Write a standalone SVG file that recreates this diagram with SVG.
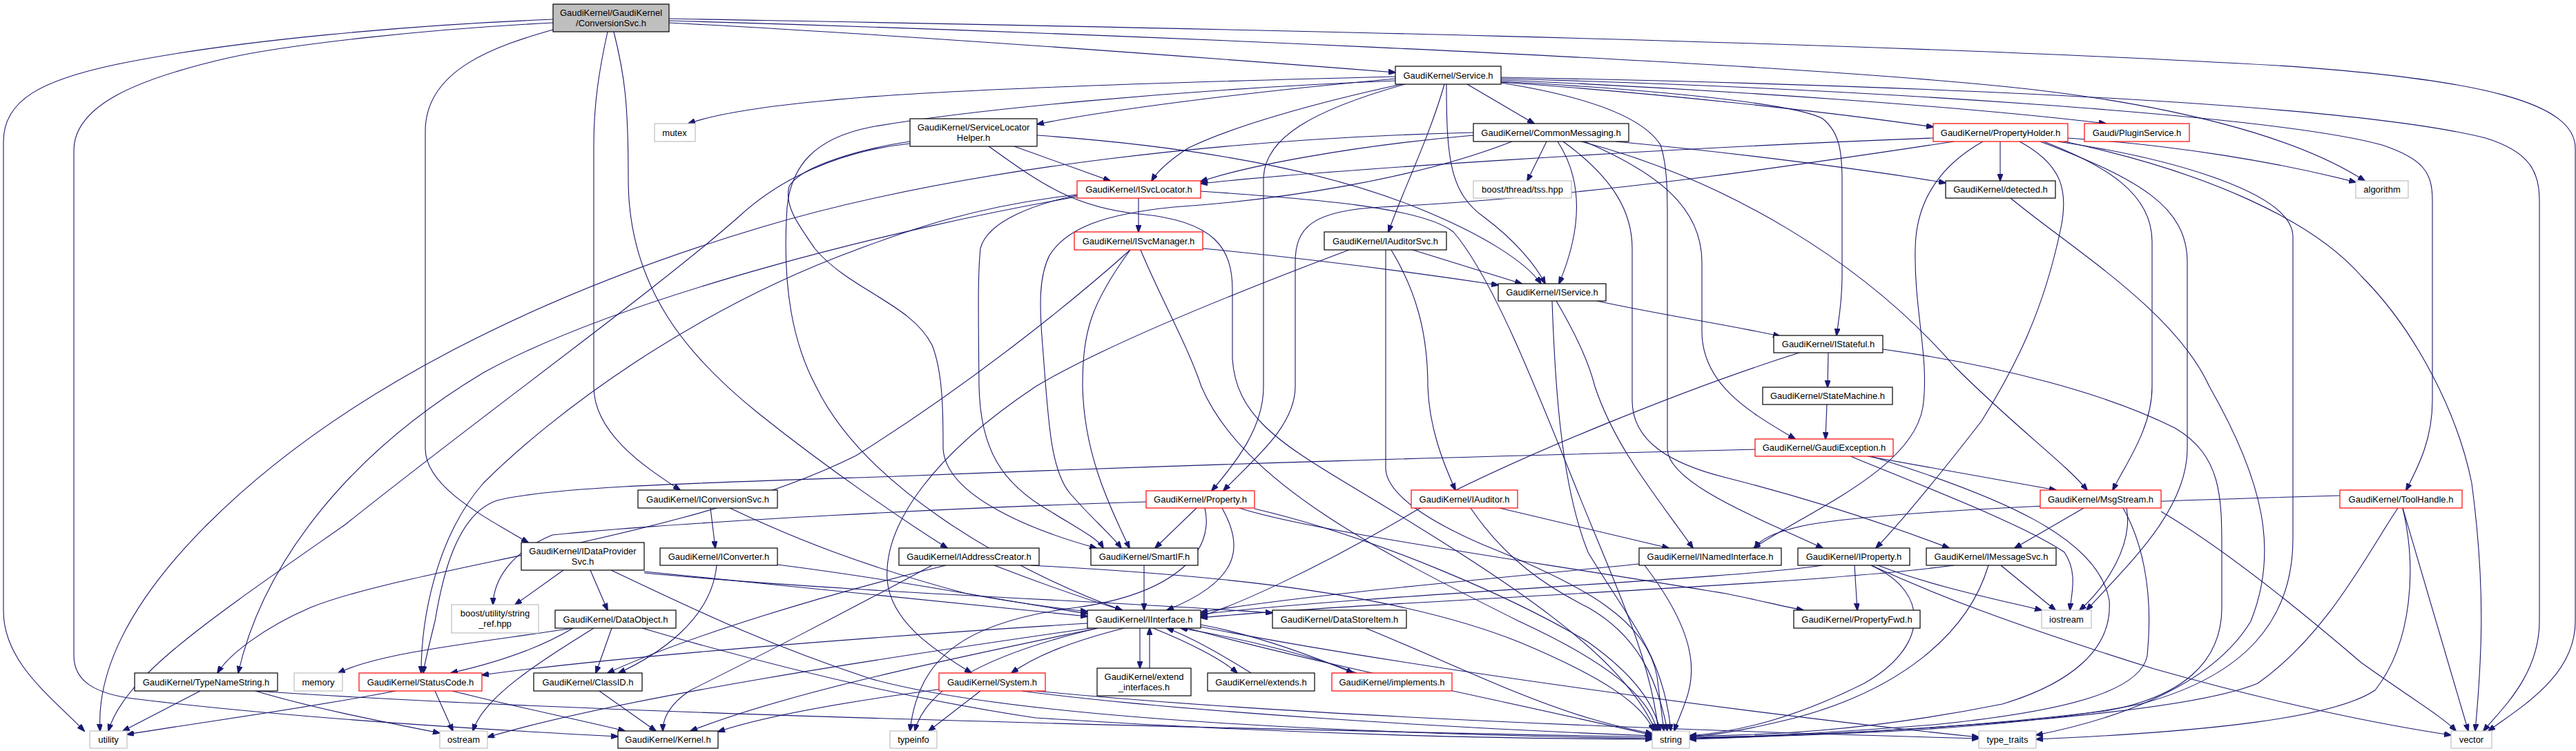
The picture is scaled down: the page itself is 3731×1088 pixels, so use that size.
<svg xmlns="http://www.w3.org/2000/svg" width="3731" height="1088" viewBox="0 0 3731 1088">
<style>
.e path{fill:none;stroke:#191970;stroke-width:1.1;marker-end:url(#ah)}
.n rect{fill:#fff;stroke:#000;stroke-width:1.2}
.n.r rect{stroke:#ff0000}
.n.g rect{stroke:#bfbfbf}
.n.root rect{fill:#bfbfbf}
text{font-family:"Liberation Sans",Arial,Helvetica,sans-serif;font-size:13px;fill:#000;text-anchor:middle}
</style>
<defs>
<marker id="ah" markerWidth="11" markerHeight="8" refX="10" refY="4" orient="auto" markerUnits="userSpaceOnUse">
<polygon points="0,0 11,4 0,8" fill="#191970" stroke="#191970"/>
</marker>
</defs>
<rect width="3731" height="1088" fill="#fff"/>
<g class="e" id="edges">
<path d="M801,28 C600,36 340,58 170,93 C60,116 5,145 5,205 L5,885 C5,960 75,1010 122,1059"/>
<path d="M801,33 C620,42 420,64 330,84 C200,114 107,152 107,218 L107,950 C107,988 140,1005 192,1012 C420,1040 720,1058 895,1067"/>
<path d="M801,43 C720,66 616,100 616,190 L616,650 C616,705 700,748 765,786"/>
<path d="M880,46 C868,100 860,150 860,210 L860,560 C860,630 940,680 985,710"/>
<path d="M889,46 C905,110 910,150 910,260 C910,420 1000,520 1100,600 C1200,680 1310,755 1372,794"/>
<path d="M969,33 C1300,50 1700,80 2021,105"/>
<path d="M969,27 C1500,37 2600,55 3300,95 C3600,115 3730,150 3730,215 L3730,900 C3730,980 3650,1025 3604,1059"/>
<path d="M969,30 C1500,45 2500,85 2900,125 C3150,150 3330,200 3425,262"/>
<path d="M2021,111 C1700,119 1400,129 1250,141 C1150,149 1050,160 997,179"/>
<path d="M2021,114 C1800,134 1600,160 1502,180"/>
<path d="M2030,122 C1900,150 1780,185 1720,215 C1690,235 1675,250 1668,262"/>
<path d="M2125,122 L2222,179"/>
<path d="M2092,122 C2070,200 2030,280 2011,336"/>
<path d="M2095,122 C2095,230 2100,280 2150,315 C2190,345 2222,380 2238,411"/>
<path d="M2174,119 C2400,135 2650,162 2800,184"/>
<path d="M2174,116 C2500,130 2850,155 3050,179"/>
<path d="M2174,118 C2400,130 2600,150 2640,172 C2665,192 2668,222 2668,262 L2668,400 C2668,440 2662,470 2660,486"/>
<path d="M2174,114 C2700,128 3300,168 3450,210 C3510,230 3523,250 3523,290 L3523,580 C3523,640 3500,680 3485,710"/>
<path d="M2174,112 C2800,124 3400,150 3600,200 C3665,220 3678,250 3678,290 L3678,900 C3678,980 3620,1030 3597,1059"/>
<path d="M2035,122 C1900,160 1830,200 1830,260 L1830,560 C1830,620 1790,670 1755,711"/>
<path d="M2174,120 C2300,140 2380,170 2405,210 C2415,240 2415,280 2415,320 L2415,650 C2415,700 2550,752 2640,794"/>
<path d="M2021,117 C1700,130 1400,160 1262,184 C1180,200 1146,240 1140,300 C1132,420 1150,500 1182,560 C1250,700 1450,820 1625,884"/>
<path d="M2240,205 L2212,262"/>
<path d="M2256,205 C2292,260 2292,330 2258,411"/>
<path d="M2264,205 C2340,260 2364,310 2364,360 L2364,580 C2364,640 2420,672 2500,692 C2650,730 2760,770 2823,794"/>
<path d="M2295,205 C2400,250 2465,300 2465,380 L2465,480 C2465,560 2540,600 2600,636"/>
<path d="M2290,205 C2500,260 2700,380 2830,530 C2920,620 2990,670 3023,710"/>
<path d="M2340,205 C2500,220 2700,245 2818,265"/>
<path d="M2134,196 C1950,212 1800,242 1739,263"/>
<path d="M2190,205 C2050,260 1850,290 1700,300 C1600,310 1545,330 1520,370 C1505,400 1505,440 1510,500 C1518,600 1520,680 1550,715 C1580,750 1610,775 1624,794"/>
<path d="M2134,192 C1800,200 1400,240 1100,330 C800,420 500,560 300,760 C180,880 140,980 145,1059"/>
<path d="M2897,205 L2897,262"/>
<path d="M2995,200 C3150,210 3300,235 3412,264"/>
<path d="M2960,205 C3050,240 3117,280 3117,350 L3117,560 C3117,620 3080,670 3060,710"/>
<path d="M2800,200 C2400,215 1900,248 1739,266"/>
<path d="M2830,205 C2600,240 2300,285 2000,300 C1900,305 1876,330 1876,380 L1876,560 C1876,620 1810,670 1772,711"/>
<path d="M2925,205 C2990,240 2995,280 2985,330 C2960,450 2920,530 2870,610 C2800,700 2750,760 2717,794"/>
<path d="M2872,205 C2810,240 2775,290 2774,360 C2772,450 2795,520 2785,590 C2770,680 2620,740 2540,794"/>
<path d="M2955,205 C3100,260 3168,300 3168,380 L3168,650 C3168,740 3080,820 3022,884"/>
<path d="M2990,205 C3200,250 3350,320 3420,400 C3500,480 3560,600 3580,700 C3600,850 3595,950 3585,1059"/>
<path d="M2980,205 C3150,230 3321,280 3321,343 L3321,780 C3321,900 3250,980 3100,1020 C2900,1060 2600,1066 2447,1070"/>
<path d="M1649,287 L1649,336"/>
<path d="M1560,283 C1500,295 1430,320 1420,360 C1416,400 1417,450 1418,560 C1420,650 1450,700 1520,740 C1560,765 1590,780 1598,794"/>
<path d="M1739,277 C1900,288 2060,300 2105,336 C2160,400 2220,550 2280,700 C2340,850 2390,950 2402,1059"/>
<path d="M1560,282 C1400,300 1300,340 1240,362 C1000,450 800,600 700,700 C630,780 610,900 610,975"/>
<path d="M1560,285 C1300,330 900,430 700,540 C500,660 380,820 345,975"/>
<path d="M1469,212 L1608,262"/>
<path d="M1502,196 C1700,210 1900,240 2050,300 C2150,340 2210,380 2232,411"/>
<path d="M1432,212 C1500,260 1550,300 1650,310 C1760,320 1785,360 1785,420 L1785,520 C1790,600 1850,640 1950,700 C2200,850 2350,950 2398,1059"/>
<path d="M1318,205 C1250,215 1160,240 1143,270 C1135,300 1160,330 1180,360 C1230,420 1320,440 1350,500 C1366,540 1366,600 1366,650 C1370,720 1500,770 1588,794"/>
<path d="M1318,208 C1250,215 1150,240 1070,314 C950,420 700,600 500,760 C300,900 180,980 157,1059"/>
<path d="M1742,360 C1900,375 2050,395 2170,413"/>
<path d="M1637,362 C1580,440 1568,480 1568,560 C1570,650 1600,720 1636,794"/>
<path d="M1637,362 C1550,440 1400,560 1240,660 C1000,780 600,820 450,880 C380,910 330,950 315,975"/>
<path d="M1652,362 C1680,430 1720,500 1740,560 C1800,700 2000,800 2200,900 C2330,960 2390,1010 2400,1059"/>
<path d="M2046,362 L2204,411"/>
<path d="M2015,362 C2050,420 2068,480 2068,560 C2070,620 2090,670 2108,710"/>
<path d="M2007,362 L2007,680 C2010,720 2080,760 2150,790 C2300,850 2385,900 2400,980 L2410,1059"/>
<path d="M1954,362 C1800,420 1600,500 1500,560 C1350,660 1280,760 1285,840 C1290,900 1350,940 1407,975"/>
<path d="M2313,436 C2400,455 2500,470 2578,487"/>
<path d="M2254,436 C2280,480 2300,520 2310,560 C2340,650 2400,720 2452,794"/>
<path d="M2248,436 C2252,550 2260,700 2300,800 C2360,900 2410,950 2420,1059"/>
<path d="M2648,511 L2647,561"/>
<path d="M2606,511 C2450,560 2200,660 2050,740 C1900,830 1780,880 1739,893"/>
<path d="M2727,506 C2900,530 3050,570 3150,620 C3218,660 3218,720 3218,800 L3218,880 C3218,960 3160,1010 3050,1030 C2800,1060 2600,1066 2447,1068"/>
<path d="M2646,586 L2644,636"/>
<path d="M2705,661 L2978,710"/>
<path d="M2680,661 C2800,710 2930,760 2990,800 C3010,830 3000,860 2998,884"/>
<path d="M2710,661 C2900,720 3040,780 3055,870 C3060,940 3000,990 2900,1020 C2700,1060 2550,1066 2447,1066"/>
<path d="M2542,651 C2200,660 1800,670 1300,690 C1000,700 800,705 720,725 C660,745 640,840 630,900 C620,940 615,960 613,975"/>
<path d="M3018,736 L2918,794"/>
<path d="M3080,736 C3090,790 3050,850 3012,884"/>
<path d="M3075,736 C3100,780 3120,850 3110,950 C3100,1000 3000,1030 2800,1050 C2650,1062 2520,1068 2447,1069"/>
<path d="M3130,741 C3230,800 3350,900 3420,960 C3490,1010 3540,1040 3557,1059"/>
<path d="M3389,718 C3100,726 2750,738 2620,760 C2570,770 2548,782 2542,794"/>
<path d="M3473,736 C3430,800 3370,920 3270,990 C3150,1040 2700,1062 2447,1071"/>
<path d="M3480,736 C3500,820 3495,930 3440,1000 C3380,1040 3200,1060 2949,1071"/>
<path d="M3480,736 L3575,1059"/>
<path d="M2172,736 L2417,794"/>
<path d="M2130,736 C2180,810 2240,850 2300,880 C2370,920 2400,980 2415,1059"/>
<path d="M1733,736 L1673,794"/>
<path d="M1770,736 C1800,790 1800,840 1690,884"/>
<path d="M1745,736 C1760,800 1700,860 1560,880 C1400,900 1330,950 1318,1059"/>
<path d="M1795,736 C1900,770 2200,810 2500,860 C2550,870 2580,878 2612,884"/>
<path d="M1660,727 C1400,735 1000,755 800,775 C740,800 715,840 714,876"/>
<path d="M1817,737 C2000,780 2200,870 2300,930 C2370,980 2395,1020 2405,1059"/>
<path d="M2686,819 L2690,884"/>
<path d="M2640,819 C2500,840 2000,860 1739,890"/>
<path d="M2720,819 C2800,850 2900,870 2957,884"/>
<path d="M2710,819 C2800,860 2790,940 2700,990 C2600,1040 2520,1060 2447,1066"/>
<path d="M2710,819 C2800,860 2900,900 3120,969 C3300,1020 3450,1050 3550,1065"/>
<path d="M2830,819 C2600,850 2000,870 1739,895"/>
<path d="M2898,819 L2977,884"/>
<path d="M2880,819 C2850,920 2750,1000 2600,1040 C2520,1060 2470,1066 2447,1067"/>
<path d="M2374,817 C2200,835 1900,860 1739,887"/>
<path d="M2382,819 C2490,960 2440,1010 2425,1059"/>
<path d="M1029,736 L1036,794"/>
<path d="M1057,736 C1150,780 1250,820 1400,860 C1480,875 1540,882 1575,886"/>
<path d="M1038,819 C1030,900 950,950 896,975"/>
<path d="M1126,818 C1300,840 1450,870 1575,889"/>
<path d="M816,826 L746,876"/>
<path d="M855,826 L880,884"/>
<path d="M933,828 C1150,850 1400,875 1575,893"/>
<path d="M933,830 C1250,860 1600,870 1843,888"/>
<path d="M885,826 C1000,880 1100,930 1260,983 C1500,1050 2100,1065 2393,1070"/>
<path d="M1440,819 C1520,850 1580,870 1625,884"/>
<path d="M1370,819 C1200,860 1000,920 880,975"/>
<path d="M1350,819 C1200,900 1100,950 1000,1000 C970,1020 960,1040 960,1059"/>
<path d="M1493,819 C1700,830 2000,850 2200,930 C2320,980 2380,1020 2395,1059"/>
<path d="M1657,819 L1657,884"/>
<path d="M830,910 C780,940 720,960 653,975"/>
<path d="M886,910 L863,975"/>
<path d="M860,910 C780,960 700,1010 685,1059"/>
<path d="M830,910 C700,930 550,945 490,975"/>
<path d="M930,910 C1100,960 1300,1010 1500,1040 C1900,1066 2200,1070 2393,1071"/>
<path d="M1651,910 L1651,968"/>
<path d="M1670,910 C1720,930 1770,955 1792,975"/>
<path d="M1739,905 C1820,920 1900,950 1960,975"/>
<path d="M1628,910 C1550,930 1500,950 1465,975"/>
<path d="M1575,903 C1300,920 900,950 698,978"/>
<path d="M1590,910 C1400,950 1150,1000 1000,1059"/>
<path d="M1580,910 C1300,950 900,1010 706,1068"/>
<path d="M1590,910 C1420,950 1340,1000 1325,1059"/>
<path d="M1720,910 C1900,960 2200,1020 2393,1065"/>
<path d="M1739,908 C2000,960 2500,1030 2866,1068"/>
<path d="M1665,968 L1665,910"/>
<path d="M1812,975 C1780,955 1730,925 1690,910"/>
<path d="M1965,975 C1900,950 1800,925 1710,910"/>
<path d="M1420,1001 L1345,1059"/>
<path d="M1365,998 C1200,1020 1100,1040 1040,1060"/>
<path d="M1480,1001 C1700,1030 2100,1055 2393,1066"/>
<path d="M1500,1001 C1900,1040 2500,1060 2866,1070"/>
<path d="M1978,910 C2100,960 2200,1010 2300,1040 C2350,1055 2380,1060 2393,1063"/>
<path d="M868,1001 L950,1059"/>
<path d="M573,1001 C450,1025 300,1045 184,1064"/>
<path d="M630,1001 L656,1059"/>
<path d="M655,1001 C750,1025 850,1045 905,1059"/>
<path d="M290,1001 L178,1059"/>
<path d="M370,1001 C450,1025 550,1045 637,1062"/>
<path d="M370,1001 C800,1030 1500,1050 2393,1068"/>
<path d="M2912,287 C3000,360 3150,450 3200,560 C3280,700 3300,800 3260,900 C3200,1000 3050,1045 2949,1065"/>
</g>
<g id="n_root" class="n root"><rect x="801" y="6" width="168" height="40"/><text x="885" y="23">GaudiKernel/GaudiKernel</text><text x="885" y="38">/ConversionSvc.h</text></g>
<g id="n_mutex" class="n g"><rect x="948" y="179" width="59" height="26"/><text x="977" y="196.5">mutex</text></g>
<g id="n_slh" class="n"><rect x="1318" y="172" width="184" height="40"/><text x="1410" y="189">GaudiKernel/ServiceLocator</text><text x="1410" y="204">Helper.h</text></g>
<g id="n_isvclocator" class="n r"><rect x="1560" y="262" width="179" height="25"/><text x="1649.5" y="279">GaudiKernel/ISvcLocator.h</text></g>
<g id="n_isvcmanager" class="n r"><rect x="1556" y="336" width="186" height="26"/><text x="1649" y="353.5">GaudiKernel/ISvcManager.h</text></g>
<g id="n_service" class="n"><rect x="2021" y="96" width="153" height="26"/><text x="2097.5" y="113.5">GaudiKernel/Service.h</text></g>
<g id="n_cm" class="n"><rect x="2134" y="179" width="225" height="26"/><text x="2246.5" y="196.5">GaudiKernel/CommonMessaging.h</text></g>
<g id="n_tss" class="n g"><rect x="2134" y="262" width="142" height="25"/><text x="2205" y="279">boost/thread/tss.hpp</text></g>
<g id="n_iauditorsvc" class="n"><rect x="1918" y="336" width="177" height="26"/><text x="2006.5" y="353.5">GaudiKernel/IAuditorSvc.h</text></g>
<g id="n_iservice" class="n"><rect x="2170" y="411" width="156" height="25"/><text x="2248" y="428">GaudiKernel/IService.h</text></g>
<g id="n_propertyholder" class="n r"><rect x="2800" y="179" width="195" height="26"/><text x="2897.5" y="196.5">GaudiKernel/PropertyHolder.h</text></g>
<g id="n_plugin" class="n r"><rect x="3019" y="179" width="152" height="26"/><text x="3095" y="196.5">Gaudi/PluginService.h</text></g>
<g id="n_detected" class="n"><rect x="2818" y="262" width="159" height="25"/><text x="2897.5" y="279">GaudiKernel/detected.h</text></g>
<g id="n_istateful" class="n"><rect x="2569" y="486" width="158" height="25"/><text x="2648" y="503">GaudiKernel/IStateful.h</text></g>
<g id="n_algorithm" class="n g"><rect x="3412" y="262" width="76" height="25"/><text x="3450" y="279">algorithm</text></g>
<g id="n_statemachine" class="n"><rect x="2553" y="561" width="188" height="25"/><text x="2647" y="578">GaudiKernel/StateMachine.h</text></g>
<g id="n_gaudiexception" class="n r"><rect x="2542" y="636" width="200" height="25"/><text x="2642" y="653">GaudiKernel/GaudiException.h</text></g>
<g id="n_msgstream" class="n r"><rect x="2955" y="710" width="175" height="26"/><text x="3042.5" y="727.5">GaudiKernel/MsgStream.h</text></g>
<g id="n_toolhandle" class="n r"><rect x="3389" y="710" width="177" height="26"/><text x="3477.5" y="727.5">GaudiKernel/ToolHandle.h</text></g>
<g id="n_property" class="n r"><rect x="1660" y="711" width="157" height="25"/><text x="1738.5" y="728">GaudiKernel/Property.h</text></g>
<g id="n_iauditor" class="n r"><rect x="2044" y="710" width="154" height="26"/><text x="2121" y="727.5">GaudiKernel/IAuditor.h</text></g>
<g id="n_iconversionsvc" class="n"><rect x="924" y="710" width="202" height="26"/><text x="1025" y="727.5">GaudiKernel/IConversionSvc.h</text></g>
<g id="n_idataprovidersvc" class="n"><rect x="755" y="786" width="178" height="40"/><text x="844" y="803">GaudiKernel/IDataProvider</text><text x="844" y="818">Svc.h</text></g>
<g id="n_iconverter" class="n"><rect x="956" y="794" width="170" height="25"/><text x="1041" y="811">GaudiKernel/IConverter.h</text></g>
<g id="n_iaddresscreator" class="n"><rect x="1302" y="794" width="203" height="25"/><text x="1403.5" y="811">GaudiKernel/IAddressCreator.h</text></g>
<g id="n_smartif" class="n"><rect x="1580" y="794" width="155" height="25"/><text x="1657.5" y="811">GaudiKernel/SmartIF.h</text></g>
<g id="n_inamedinterface" class="n"><rect x="2374" y="794" width="206" height="25"/><text x="2477" y="811">GaudiKernel/INamedInterface.h</text></g>
<g id="n_iproperty" class="n"><rect x="2604" y="794" width="162" height="25"/><text x="2685" y="811">GaudiKernel/IProperty.h</text></g>
<g id="n_imessagesvc" class="n"><rect x="2790" y="794" width="188" height="25"/><text x="2884" y="811">GaudiKernel/IMessageSvc.h</text></g>
<g id="n_stringref" class="n g"><rect x="654" y="876" width="126" height="41"/><text x="717" y="893">boost/utility/string</text><text x="717" y="908">_ref.hpp</text></g>
<g id="n_dataobject" class="n"><rect x="804" y="884" width="175" height="26"/><text x="891.5" y="901.5">GaudiKernel/DataObject.h</text></g>
<g id="n_iinterface" class="n"><rect x="1575" y="884" width="164" height="26"/><text x="1657" y="901.5">GaudiKernel/IInterface.h</text></g>
<g id="n_datastoreitem" class="n"><rect x="1843" y="884" width="194" height="26"/><text x="1940" y="901.5">GaudiKernel/DataStoreItem.h</text></g>
<g id="n_propertyfwd" class="n"><rect x="2598" y="884" width="183" height="26"/><text x="2689.5" y="901.5">GaudiKernel/PropertyFwd.h</text></g>
<g id="n_iostream" class="n g"><rect x="2957" y="884" width="72" height="26"/><text x="2993" y="901.5">iostream</text></g>
<g id="n_typenamestring" class="n"><rect x="195" y="975" width="207" height="26"/><text x="298.5" y="992.5">GaudiKernel/TypeNameString.h</text></g>
<g id="n_memory" class="n g"><rect x="426" y="975" width="70" height="26"/><text x="461" y="992.5">memory</text></g>
<g id="n_statuscode" class="n r"><rect x="520" y="975" width="178" height="26"/><text x="609" y="992.5">GaudiKernel/StatusCode.h</text></g>
<g id="n_classid" class="n"><rect x="773" y="975" width="157" height="26"/><text x="851.5" y="992.5">GaudiKernel/ClassID.h</text></g>
<g id="n_system" class="n r"><rect x="1360" y="975" width="154" height="26"/><text x="1437" y="992.5">GaudiKernel/System.h</text></g>
<g id="n_extendinterfaces" class="n"><rect x="1589" y="968" width="136" height="40"/><text x="1657" y="985">GaudiKernel/extend</text><text x="1657" y="1000">_interfaces.h</text></g>
<g id="n_extends" class="n"><rect x="1749" y="975" width="155" height="26"/><text x="1826.5" y="992.5">GaudiKernel/extends.h</text></g>
<g id="n_implements" class="n r"><rect x="1929" y="975" width="174" height="26"/><text x="2016" y="992.5">GaudiKernel/implements.h</text></g>
<g id="n_utility" class="n g"><rect x="130" y="1059" width="54" height="25"/><text x="157" y="1076">utility</text></g>
<g id="n_ostream" class="n g"><rect x="637" y="1059" width="69" height="25"/><text x="671.5" y="1076">ostream</text></g>
<g id="n_kernel" class="n"><rect x="895" y="1059" width="145" height="25"/><text x="967.5" y="1076">GaudiKernel/Kernel.h</text></g>
<g id="n_typeinfo" class="n g"><rect x="1289" y="1059" width="68" height="25"/><text x="1323" y="1076">typeinfo</text></g>
<g id="n_string" class="n g"><rect x="2393" y="1059" width="54" height="25"/><text x="2420" y="1076">string</text></g>
<g id="n_typetraits" class="n g"><rect x="2866" y="1059" width="83" height="25"/><text x="2907.5" y="1076">type_traits</text></g>
<g id="n_vector" class="n g"><rect x="3550" y="1059" width="59" height="25"/><text x="3579.5" y="1076">vector</text></g>
</svg>
